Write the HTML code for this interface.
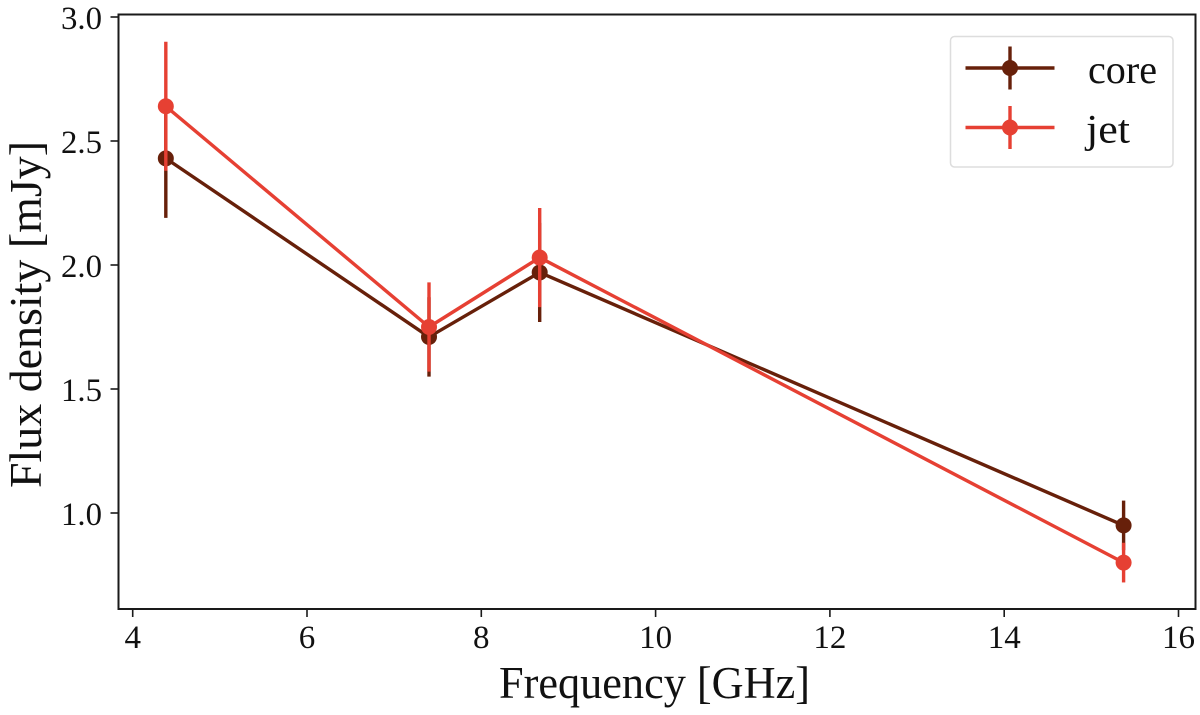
<!DOCTYPE html>
<html lang="en">
<head>
<meta charset="utf-8">
<title>Flux density vs frequency</title>
<style>
html,body{margin:0;padding:0;background:#fff;width:1200px;height:715px;overflow:hidden}
svg{display:block}
text{font-family:"Liberation Serif",serif;fill:#111}
</style>
</head>
<body>
<svg id="chart" xmlns="http://www.w3.org/2000/svg" width="1200" height="715" viewBox="0 0 1200 715"></svg>
<script>
const frequencies = [4.38, 7.40, 8.67, 15.37];
const coreValues = [2.43, 1.71, 1.97, 0.95];
const coreErrors = [0.24, 0.16, 0.20, 0.10];
const jetValues = [2.64, 1.75, 2.03, 0.80];
const jetErrors = [0.26, 0.18, 0.20, 0.08];
const xTicks = [4, 6, 8, 10, 12, 14, 16];
const yTicks = ['1.0', '1.5', '2.0', '2.5', '3.0'];
const seriesNames = ['core', 'jet'];

const NS = 'http://www.w3.org/2000/svg';
const svg = document.getElementById('chart');
const COLORS = {core: '#67200a', jet: '#e64033'};
const X_AT_4 = 132.7, X_PER_UNIT = 87.15;
const Y_AT_1 = 513, Y_PER_UNIT = 248;
const FRAME = {l: 118.5, r: 1195.5, t: 14.5, b: 609};
const LINE_W = 3.4, DOT_R = 8;

function xScale(v) { return X_AT_4 + (v - 4) * X_PER_UNIT; }
function yScale(v) { return Y_AT_1 - (v - 1) * Y_PER_UNIT; }

function make(tag, attrs, parent) {
  const el = document.createElementNS(NS, tag);
  for (const k in attrs) el.setAttribute(k, attrs[k]);
  (parent || svg).appendChild(el);
  return el;
}

function drawSeries(name, values, errors) {
  const color = COLORS[name];
  const g = make('g', {});
  
  

  const line = make('polyline', {
    points: frequencies.map((f, i) => xScale(f) + ',' + yScale(values[i])).join(' '),
    fill: 'none', stroke: color, 'stroke-width': LINE_W, 'stroke-linejoin': 'round'
  }, g);
  
  

  frequencies.forEach((f, i) => {
    const bar = make('line', {
      x1: xScale(f), x2: xScale(f),
      y1: yScale(values[i] + errors[i]), y2: yScale(values[i] - errors[i]),
      stroke: color, 'stroke-width': LINE_W
    }, g);
    
    
  });

  frequencies.forEach((f, i) => {
    const dot = make('circle', {cx: xScale(f), cy: yScale(values[i]), r: DOT_R, fill: color}, g);
    
    
  });
}

drawSeries('core', coreValues, coreErrors);
drawSeries('jet', jetValues, jetErrors);

/* frame */
const frame = make('rect', {
  x: FRAME.l, y: FRAME.t, width: FRAME.r - FRAME.l, height: FRAME.b - FRAME.t,
  fill: 'none', stroke: '#1a1a1a', 'stroke-width': 2
});



/* x ticks */
xTicks.forEach(t => {
  const px = xScale(t);
  const tick = make('line', {x1: px, x2: px, y1: FRAME.b, y2: FRAME.b + 8, stroke: '#1a1a1a', 'stroke-width': 1.6});
  
  
  const label = make('text', {x: px, y: 648, 'text-anchor': 'middle', 'font-size': 33});
  label.textContent = String(t);
  
  
});

/* y ticks */
yTicks.forEach(t => {
  const py = yScale(parseFloat(t));
  const tick = make('line', {x1: FRAME.l - 8, x2: FRAME.l, y1: py, y2: py, stroke: '#1a1a1a', 'stroke-width': 1.6});
  
  
  const label = make('text', {x: 102, y: py + 12, 'text-anchor': 'end', 'font-size': 33, textLength: 41, lengthAdjust: 'spacingAndGlyphs'});
  label.textContent = t;
  
  
});

/* axis titles */
const xTitle = make('text', {x: 499, y: 698, 'font-size': 45, textLength: 311, lengthAdjust: 'spacingAndGlyphs'});
xTitle.textContent = 'Frequency [GHz]';



const yTitle = make('text', {x: 0, y: 0, transform: 'translate(41,488) rotate(-90)', 'font-size': 45, textLength: 347, lengthAdjust: 'spacingAndGlyphs'});
yTitle.textContent = 'Flux density [mJy]';



/* legend */
const legend = make('g', {});


const legendBox = make('rect', {x: 950.5, y: 36.5, width: 222.5, height: 130.5, rx: 4, ry: 4, fill: '#fff', 'fill-opacity': 0.8, stroke: '#dddddd', 'stroke-width': 1.5}, legend);



seriesNames.forEach((name, i) => {
  const cy = 68 + i * 59.5;
  const color = COLORS[name];
  const entry = make('g', {}, legend);
  
  
  make('line', {x1: 965.5, x2: 1054.5, y1: cy, y2: cy, stroke: color, 'stroke-width': LINE_W}, entry);
  make('line', {x1: 1010, x2: 1010, y1: cy - 21.5, y2: cy + 21.5, stroke: color, 'stroke-width': LINE_W}, entry);
  make('circle', {cx: 1010, cy: cy, r: DOT_R, fill: color}, entry);
  const label = make('text', {
    x: name === 'core' ? 1088 : 1086, y: cy + 15, 'font-size': 40,
    textLength: name === 'core' ? 69 : 44, lengthAdjust: 'spacingAndGlyphs'
  }, entry);
  label.textContent = name;
  
  
});
</script>
</body>
</html>
